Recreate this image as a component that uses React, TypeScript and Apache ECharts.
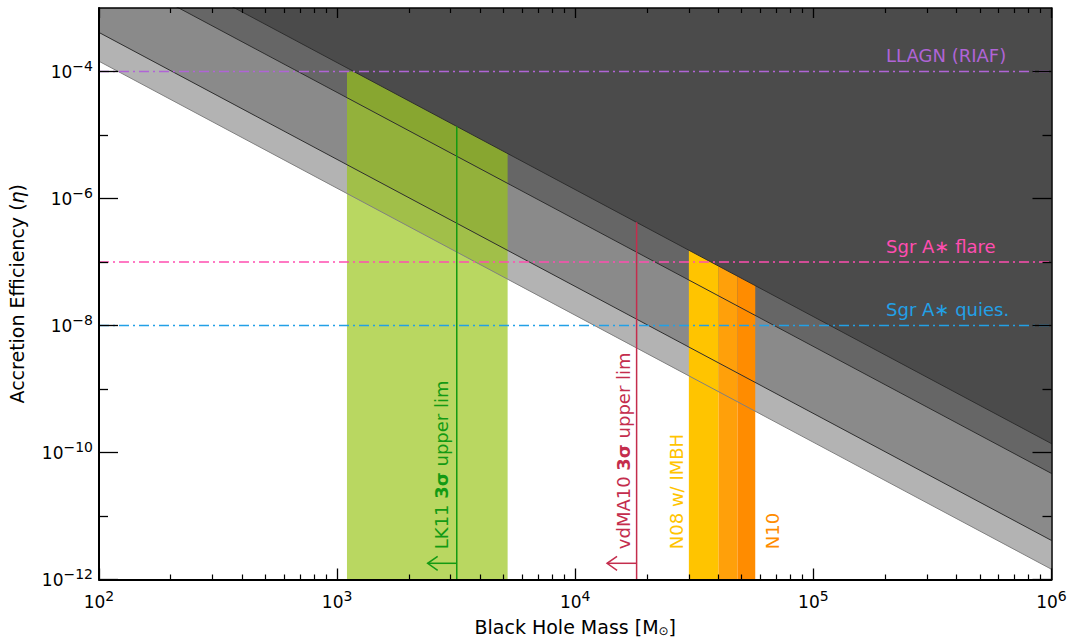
import React, { useEffect, useRef } from 'react';
import * as echarts from 'echarts';

// ---------- data ----------
const xTickExps = [2, 3, 4, 5, 6];
const xMinorMultipliers = [2, 3, 4, 5, 6, 7, 8, 9];
const yLabelExps = [-12, -10, -8, -6, -4];
const yOddExps = [-11, -9, -7, -5];

// band edges (eta at M = 1e2 and M = 1e6), from lowest to highest
const bandEtaAtM1e2 = [1.45e-4, 4.12e-4, 4.68e-3, 1.38e-2];
const bandEtaAtM1e6 = [1.45e-12, 4.12e-12, 4.68e-11, 1.38e-10];
const bandFill = ['#b3b3b3', '#8a8a8a', '#666666', '#4b4b4b'];
const bandEdgeColor = ['#808080', '#2e2e2e', '#2e2e2e', '#2e2e2e'];

const lk11Mass = [1.1e3, 5.2e3];
const lk11Ceiling = 1e-4;
const n08Mass = [3.0e4, 4.8e4];
const n10Mass = [4.0e4, 5.7e4];

const limitMass = [3.18e3, 1.81e4];
const limitArrowTip = [2.4e3, 1.36e4];
const limitArrowEta = 1.8e-12;
const limitColor = ['#139a13', '#c42d4d'];

const refNames = ['LLAGN (RIAF)', 'Sgr A\u2217 flare', 'Sgr A\u2217 quies.'];
const refEta = [1e-4, 1e-7, 1e-8];
const refColor = ['#b064d6', '#ff4db0', '#22a0e6'];
const refLabelMass = 2.02e5;

const vLabelText = ['LK11 {b|3\u03c3} upper lim', 'vdMA10 {b|3\u03c3} upper lim', 'N08 w/ IMBH', 'N10'];
const vLabelMass = [2.75e3, 1.59e4, 2.67e4, 6.75e4];
const vLabelEta = 3.0e-12;
const vLabelColor = ['#139a13', '#c42d4d', '#ffc400', '#ff8c00'];

const FONT = '"DejaVu Sans", "Noto Sans", sans-serif';

// ---------- helpers ----------
const L = Math.log10;
const edgeLog = (i: number, lx: number) => {
  const a = L(bandEtaAtM1e2[i]);
  const b = L(bandEtaAtM1e6[i]);
  return a + ((b - a) * (lx - 2)) / 4;
};
const edgeCross = (i: number, ly: number) => {
  const a = L(bandEtaAtM1e2[i]);
  const b = L(bandEtaAtM1e6[i]);
  return 2 + (4 * (ly - a)) / (b - a);
};
const fmtExp = (v: number) => (v < 0 ? '\u2212' + String(-v) : String(v));
const xMinors: number[] = [];
for (let n = xTickExps[0]; n < xTickExps[xTickExps.length - 1]; n++) {
  for (const k of xMinorMultipliers) xMinors.push(L(k * Math.pow(10, n)));
}

const tickRich = {
  b: { fontSize: 17, lineHeight: 26, fontFamily: FONT, color: '#000' },
  s: { fontSize: 14, lineHeight: 14, verticalAlign: 'top', fontFamily: FONT, color: '#000' },
};
const tickFmt = (v: number) => `{b|10}{s|${fmtExp(Math.round(v))}}`;

function buildOption() {
  const baseAxis = {
    type: 'value',
    splitLine: { show: false },
    z: 10,
  };
  const xAxis = [
    {
      ...baseAxis, position: 'bottom', min: 2, max: 6, interval: 1, offset: 0,
      axisLine: { show: true, lineStyle: { color: '#000', width: 2 } },
      axisTick: { show: true, inside: true, length: 11, customValues: xTickExps, lineStyle: { color: '#000', width: 1.3 } },
      axisLabel: { show: true, customValues: xTickExps, formatter: tickFmt, rich: tickRich, margin: 9 },
      name: 'Black Hole Mass [M{sub|\u2299}]',
      nameLocation: 'middle', nameGap: 37,
      nameTextStyle: {
        fontSize: 19, fontFamily: FONT, color: '#000', lineHeight: 20,
        rich: { sub: { fontSize: 12, lineHeight: 12, verticalAlign: 'bottom', fontFamily: FONT, color: '#000' } },
      },
    },
    {
      ...baseAxis, position: 'bottom', min: 2, max: 6, interval: 1, offset: 0,
      axisLine: { show: false },
      axisTick: { show: true, inside: true, length: 5, customValues: xMinors, lineStyle: { color: '#000', width: 1.2 } },
      axisLabel: { show: false },
    },
    {
      ...baseAxis, position: 'top', min: 2, max: 6, interval: 1, offset: 0,
      axisLine: { show: true, lineStyle: { color: '#000', width: 1.5 } },
      axisTick: { show: true, inside: true, length: 10, customValues: xTickExps, lineStyle: { color: '#000', width: 1.3 } },
      axisLabel: { show: false },
    },
    {
      ...baseAxis, position: 'top', min: 2, max: 6, interval: 1, offset: 0,
      axisLine: { show: false },
      axisTick: { show: true, inside: true, length: 5, customValues: xMinors, lineStyle: { color: '#000', width: 1.2 } },
      axisLabel: { show: false },
    },
  ];
  const yAxis = [
    {
      ...baseAxis, position: 'left', min: -12, max: -3, offset: 0,
      axisLine: { show: true, lineStyle: { color: '#000', width: 2 } },
      axisTick: { show: true, inside: true, length: 19, customValues: yLabelExps, lineStyle: { color: '#000', width: 1.3 } },
      axisLabel: { show: true, customValues: yLabelExps, formatter: tickFmt, rich: tickRich, margin: 6 },
      name: 'Accretion Efficiency ({i|\u03b7})',
      nameLocation: 'middle', nameGap: 73, nameRotate: 90,
      nameTextStyle: {
        fontSize: 19, fontFamily: FONT, color: '#000',
        rich: { i: { fontSize: 19, fontStyle: 'italic', fontFamily: FONT, color: '#000' } },
      },
    },
    {
      ...baseAxis, position: 'left', min: -12, max: -3, offset: 0,
      axisLine: { show: false },
      axisTick: { show: true, inside: true, length: 9, customValues: yOddExps, lineStyle: { color: '#000', width: 1.3 } },
      axisLabel: { show: false },
    },
    {
      ...baseAxis, position: 'right', min: -12, max: -3, offset: 0,
      axisLine: { show: true, lineStyle: { color: '#000', width: 1.5 } },
      axisTick: { show: true, inside: true, length: 19, customValues: yLabelExps, lineStyle: { color: '#000', width: 1.3 } },
      axisLabel: { show: false },
    },
    {
      ...baseAxis, position: 'right', min: -12, max: -3, offset: 0,
      axisLine: { show: false },
      axisTick: { show: true, inside: true, length: 9, customValues: yOddExps, lineStyle: { color: '#000', width: 1.3 } },
      axisLabel: { show: false },
    },
  ];

  const series: any[] = [];
  const lineBase = { type: 'line', xAxisIndex: 0, yAxisIndex: 0, symbol: 'none', showSymbol: false, silent: true, clip: true, animation: false };

  // grey band fills (each fills from its edge up to the top)
  bandFill.forEach((c, i) => {
    series.push({
      ...lineBase, z: 1,
      data: [[2, L(bandEtaAtM1e2[i])], [6, L(bandEtaAtM1e6[i])]],
      lineStyle: { width: 0, opacity: 0 },
      areaStyle: { color: c, opacity: 1, origin: 'end' },
    });
  });

  // LK11 region (green, translucent)
  const g0 = L(lk11Mass[0]);
  const g1 = L(lk11Mass[1]);
  const gc = Math.max(g0, edgeCross(3, L(lk11Ceiling)));
  series.push({
    ...lineBase, z: 2,
    data: [[g0, L(lk11Ceiling)], [gc, L(lk11Ceiling)], [g1, edgeLog(3, g1)]],
    lineStyle: { width: 0, opacity: 0 },
    areaStyle: { color: 'rgba(152,196,22,0.68)', opacity: 1, origin: 'start' },
  });

  // N08 / N10 strips
  const strips: [number, number, string][] = [
    [n08Mass[0], n10Mass[0], '#ffc400'],
    [n10Mass[0], n08Mass[1], '#ffa00a'],
    [n08Mass[1], n10Mass[1], '#ff8c00'],
  ];
  strips.forEach(([a, b, c]) => {
    const la = L(a);
    const lb = L(b);
    series.push({
      ...lineBase, z: 2,
      data: [[la, edgeLog(3, la)], [lb, edgeLog(3, lb)]],
      lineStyle: { width: 0, opacity: 0 },
      areaStyle: { color: c, opacity: 1, origin: 'start' },
    });
  });

  // band edge lines
  bandEdgeColor.forEach((c, i) => {
    series.push({
      ...lineBase, z: 3,
      data: [[2, L(bandEtaAtM1e2[i])], [6, L(bandEtaAtM1e6[i])]],
      lineStyle: { color: c, width: 1 },
    });
  });

  // reference levels (dash-dot)
  refEta.forEach((e, i) => {
    series.push({
      ...lineBase, z: 4,
      data: [[2, L(e)], [6, L(e)]],
      lineStyle: { color: refColor[i], width: 1.6, type: [10, 4, 2, 4] },
    });
  });

  // vertical upper-limit lines
  limitMass.forEach((m, i) => {
    const lx = L(m);
    series.push({
      ...lineBase, z: 5,
      data: [[lx, -12], [lx, edgeLog(3, lx)]],
      lineStyle: { color: limitColor[i], width: 1.5 },
    });
  });

  // arrows at the bottom of the limit lines
  series.push({
    type: 'custom', coordinateSystem: 'cartesian2d', xAxisIndex: 0, yAxisIndex: 0, z: 5, silent: true,
    data: limitMass.map((m, i) => [L(m), L(limitArrowTip[i]), L(limitArrowEta), i]),
    encode: { x: [0, 1], y: 2 },
    renderItem: (_p: any, api: any) => {
      const i = api.value(3);
      const p1 = api.coord([api.value(0), api.value(2)]);
      const p2 = api.coord([api.value(1), api.value(2)]);
      const c = limitColor[i];
      return {
        type: 'group',
        children: [
          { type: 'line', shape: { x1: p1[0], y1: p1[1], x2: p2[0], y2: p2[1] }, style: { stroke: c, lineWidth: 1.5 } },
          {
            type: 'polyline',
            shape: { points: [[p2[0] + 10, p2[1] - 7], [p2[0], p2[1]], [p2[0] + 10, p2[1] + 7]] },
            style: { stroke: c, fill: 'none', lineWidth: 1.5 },
          },
        ],
      };
    },
  });

  // horizontal reference labels
  series.push({
    type: 'custom', coordinateSystem: 'cartesian2d', xAxisIndex: 0, yAxisIndex: 0, z: 6, silent: true,
    data: refEta.map((e, i) => [L(refLabelMass), L(e), i]),
    encode: { x: 0, y: 1 },
    renderItem: (_p: any, api: any) => {
      const i = api.value(2);
      const p = api.coord([api.value(0), api.value(1)]);
      return {
        type: 'text', x: p[0], y: p[1] - 16,
        style: { text: refNames[i], fill: refColor[i], fontSize: 18, fontFamily: FONT, align: 'left', verticalAlign: 'middle' },
      };
    },
  });

  // vertical labels
  series.push({
    type: 'custom', coordinateSystem: 'cartesian2d', xAxisIndex: 0, yAxisIndex: 0, z: 6, silent: true,
    data: vLabelMass.map((m, i) => [L(m), L(vLabelEta), i]),
    encode: { x: 0, y: 1 },
    renderItem: (_p: any, api: any) => {
      const i = api.value(2);
      const p = api.coord([api.value(0), api.value(1)]);
      return {
        type: 'text', x: p[0], y: p[1], rotation: Math.PI / 2,
        style: {
          text: vLabelText[i], fill: vLabelColor[i], fontSize: 18, fontFamily: FONT,
          align: 'left', verticalAlign: 'middle',
          rich: { b: { fontSize: 18, fontFamily: FONT, fontWeight: 'bold', fill: vLabelColor[i] } },
        },
      };
    },
  });

  return {
    animation: false,
    backgroundColor: '#ffffff',
    grid: { left: 99, right: 18.5, top: 8, bottom: 58.5, containLabel: false, outerBoundsMode: 'none' },
    xAxis,
    yAxis,
    series,
  };
}

export default function App() {
  const ref = useRef<HTMLDivElement>(null);
  useEffect(() => {
    if (!ref.current) return;
    const chart = echarts.init(ref.current, null, { renderer: 'svg' });
    chart.setOption(buildOption() as any);
    return () => chart.dispose();
  }, []);
  return <div ref={ref} style={{ position: 'fixed', left: 0, top: 0, width: 1070, height: 638 }} />;
}
